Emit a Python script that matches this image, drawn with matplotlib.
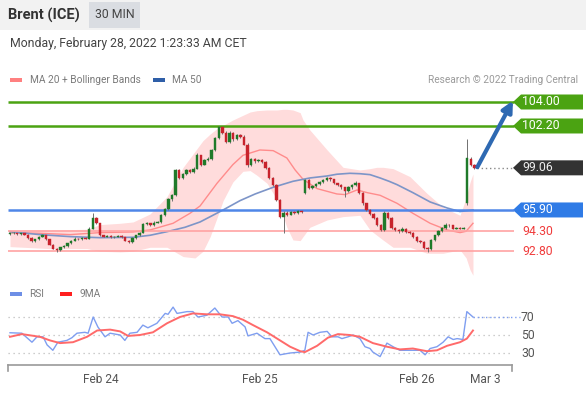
import matplotlib
matplotlib.use("Agg")
import matplotlib.pyplot as plt
from matplotlib.patches import Rectangle, Polygon
from matplotlib.transforms import blended_transform_factory
import numpy as np

plt.rcParams['font.family'] = ['Roboto', 'DejaVu Sans']

# ---------------- data ----------------
opens = [94.10, 94.15, 94.15, 94.10, 94.15, 94.05, 93.80, 93.55, 93.70, 93.90,
         94.00, 93.70, 93.30, 93.00, 92.90, 93.10, 93.20, 93.40, 93.60, 93.75,
         93.70, 93.80, 93.75, 94.50, 95.30, 94.90, 94.00, 93.90, 93.95, 93.85,
         93.90, 93.95, 93.85, 93.60, 93.50, 93.80, 94.00, 94.20, 94.85, 94.90,
         94.75, 94.95, 95.00, 95.50, 95.95, 96.70, 97.00, 98.90, 98.30, 98.60,
         98.90, 98.75, 99.00, 100.00, 99.30, 99.65, 99.70, 100.40, 101.30, 102.10,
         101.70, 101.00, 101.70, 101.20, 101.50, 101.40, 100.80, 99.30, 99.70, 99.55,
         99.65, 99.50, 99.05, 98.30, 97.80, 96.65, 95.40, 95.70, 95.55, 95.75,
         95.65, 95.80, 97.20, 98.15, 97.55, 97.70, 97.85, 98.00, 98.15, 98.30,
         98.20, 97.90, 97.75, 97.60, 97.30, 97.60, 97.75, 97.90, 97.20, 96.40,
         95.90, 95.60, 95.30, 94.80, 94.40, 95.70, 95.30, 94.55, 94.40, 94.30,
         94.50, 94.25, 94.20, 93.90, 93.60, 93.50, 93.05, 92.95, 93.65, 94.00,
         94.30, 94.55, 94.80, 94.75, 94.50, 94.55, 94.50, 96.40, 99.75, 99.30]
closes = [94.15, 94.15, 94.10, 94.15, 94.05, 93.80, 93.55, 93.70, 93.90, 94.00,
          93.70, 93.30, 93.00, 92.90, 93.10, 93.20, 93.40, 93.60, 93.75, 93.70,
          93.80, 93.75, 94.50, 95.30, 94.90, 94.00, 93.90, 93.95, 93.85, 93.90,
          93.95, 93.85, 93.60, 93.50, 93.80, 94.00, 94.20, 94.85, 94.90, 94.75,
          94.95, 95.00, 95.50, 95.95, 96.70, 97.00, 98.90, 98.30, 98.60, 98.90,
          98.75, 99.00, 100.00, 99.30, 99.65, 99.70, 100.40, 101.30, 102.10, 101.70,
          101.00, 101.70, 101.20, 101.50, 101.40, 100.80, 99.30, 99.70, 99.55, 99.65,
          99.50, 99.05, 98.30, 97.80, 96.65, 95.40, 95.70, 95.55, 95.75, 95.65,
          95.80, 95.75, 98.15, 97.55, 97.70, 97.85, 98.00, 98.15, 98.30, 98.20,
          97.90, 97.75, 97.60, 97.30, 97.60, 97.75, 97.90, 97.20, 96.40, 95.90,
          95.60, 95.30, 94.80, 94.40, 95.70, 95.30, 94.55, 94.40, 94.30, 94.50,
          94.25, 94.20, 93.90, 93.60, 93.50, 93.05, 92.95, 93.65, 94.00, 94.30,
          94.55, 94.80, 94.75, 94.50, 94.55, 94.50, 94.55, 99.80, 99.30, 99.06]
highs = [94.20, 94.22, 94.20, 94.20, 94.20, 94.10, 93.85, 93.75, 93.95, 94.10,
         94.05, 93.75, 93.35, 93.05, 93.15, 93.30, 93.45, 93.65, 93.85, 93.80,
         93.85, 93.85, 94.60, 95.70, 95.40, 94.95, 94.05, 94.05, 94.00, 93.95,
         94.00, 94.00, 93.90, 93.65, 93.85, 94.05, 94.25, 94.95, 95.00, 94.95,
         95.05, 95.10, 95.60, 96.05, 96.80, 97.10, 99.00, 98.95, 98.70, 99.00,
         98.95, 99.10, 100.15, 100.05, 99.75, 99.85, 100.50, 101.40, 102.20, 102.15,
         101.80, 101.80, 101.75, 101.60, 101.60, 101.50, 100.90, 99.80, 99.80, 99.75,
         99.75, 99.60, 99.10, 98.40, 97.85, 96.70, 95.80, 95.80, 95.85, 95.80,
         95.90, 95.85, 98.25, 98.20, 97.80, 97.95, 98.10, 98.25, 98.40, 98.35,
         98.25, 97.95, 97.85, 97.65, 97.70, 97.85, 98.10, 97.95, 97.25, 96.45,
         95.95, 95.65, 95.35, 94.85, 95.80, 95.75, 95.35, 94.60, 94.45, 94.60,
         94.55, 94.30, 94.25, 93.95, 93.65, 93.55, 93.10, 93.70, 94.05, 94.40,
         94.60, 94.90, 94.85, 94.80, 94.60, 94.60, 94.60, 101.20, 99.85, 99.35]
lows = [94.05, 94.08, 94.05, 94.05, 94.00, 93.75, 93.50, 93.50, 93.65, 93.85,
        93.65, 93.25, 92.95, 92.75, 92.85, 93.05, 93.15, 93.35, 93.55, 93.65,
        93.65, 93.70, 93.70, 94.45, 94.85, 93.95, 93.85, 93.85, 93.80, 93.80,
        93.85, 93.80, 93.55, 93.40, 93.45, 93.75, 93.95, 94.15, 94.80, 94.70,
        94.70, 94.90, 94.95, 95.45, 95.90, 96.60, 96.95, 98.20, 98.25, 98.55,
        98.65, 98.70, 98.95, 99.20, 99.25, 99.60, 99.65, 100.35, 101.25, 101.60,
        100.90, 100.95, 101.10, 101.15, 101.30, 100.75, 99.10, 99.20, 99.45, 99.50,
        99.45, 98.95, 98.25, 97.70, 96.55, 95.30, 94.20, 95.45, 95.50, 95.60,
        95.60, 95.65, 97.10, 97.45, 97.45, 97.60, 97.80, 97.95, 98.10, 98.10,
        97.85, 97.70, 97.50, 96.90, 97.25, 97.50, 97.70, 97.10, 96.30, 95.80,
        95.50, 95.20, 94.70, 94.30, 94.30, 95.20, 94.45, 94.30, 94.20, 94.25,
        94.15, 94.10, 93.80, 93.50, 93.40, 92.95, 92.75, 92.90, 93.60, 93.95,
        94.25, 94.50, 94.65, 94.45, 94.45, 94.45, 94.45, 96.30, 99.20, 99.00]

# indicator lines read at sample bar positions
ma50_x = [0, 8.3, 16.7, 25, 34.2, 38.9, 43.6, 48.6, 52.8, 59.2, 63.9, 68.1, 73.1,
          78.6, 83.3, 88.1, 90.8, 94.4, 97.2, 100, 102.8, 105.3, 107.5, 111.9, 116.7,
          121.4, 125, 128.6]
ma50_y = [94.27, 94.05, 93.90, 93.82, 93.85, 94.00, 94.27, 94.60, 95.00, 95.90, 96.60,
          97.10, 97.60, 98.05, 98.30, 98.45, 98.58, 98.65, 98.62, 98.55, 98.30, 98.05,
          97.80, 97.20, 96.50, 96.05, 95.78, 95.90]
ma20_x = [0, 8.3, 16.7, 25, 34.2, 38.9, 45.3, 50, 52.8, 57.5, 61.9, 64.7, 69.4, 73.1,
          76.9, 79.2, 81.4, 85.3, 90.8, 93.1, 96.4, 99.2, 102.8, 107.5, 111.9, 116.7,
          121.4, 125, 126.7, 128.6]
ma20_y = [94.20, 94.15, 94.05, 94.20, 94.25, 94.40, 94.90, 95.65, 96.20, 97.90, 99.30,
          100.00, 100.40, 100.35, 99.80, 98.90, 98.20, 97.50, 97.10, 97.05, 97.40, 97.20,
          97.00, 96.40, 95.65, 94.90, 94.40, 94.20, 94.30, 94.90]
bb_x = [0, 11.1, 21.4, 25, 30.6, 34.2, 38.9, 43.6, 48.1, 51.4, 53.6, 55.6, 57.5, 59.2,
        61.9, 64.7, 66.7, 68.6, 71.4, 74.2, 75.8, 76.9, 78.6, 80.6, 81.4, 83.3, 88.1,
        92.5, 97.2, 100, 101.9, 103.6, 106.4, 111.1, 115.8, 120.3, 125, 126.7, 127.8, 128.6]
bb_upper = [94.40, 94.40, 94.45, 94.80, 94.90, 95.00, 95.60, 96.90, 99.10, 100.30, 101.10,
            101.60, 102.00, 102.25, 102.65, 103.00, 103.25, 103.35, 103.40, 103.40, 103.45,
            103.45, 103.40, 103.20, 102.65, 101.90, 100.40, 99.10, 98.90, 99.00, 99.10,
            99.10, 99.00, 98.40, 97.15, 96.10, 95.50, 96.80, 98.00, 98.60]
bb_lower = [93.15, 93.00, 93.00, 92.80, 92.75, 92.80, 93.10, 93.10, 92.40, 92.30, 92.80,
            93.90, 95.30, 96.60, 98.00, 98.80, 98.85, 98.50, 97.90, 96.65, 95.50,
            94.60, 93.65, 93.60, 93.90, 94.60, 95.15, 95.40, 95.50, 94.40, 94.00,
            93.65, 93.10, 93.10, 92.65, 92.65, 92.90, 92.30, 91.40, 91.00]

rsi_x = [0, 3.3, 6.1, 7.5, 9.2, 10.3, 11.9, 13.3, 15.8, 17.2, 18.6, 20.8, 21.7, 23.1,
         24.4, 26.4, 27.8, 30.6, 31.9, 33.3, 35.3, 36.9, 38.3, 40.8, 43.1, 43.9, 45.3,
         46.4, 49.2, 50.8, 52.2, 54.7, 56.9, 58.9, 60.6, 61.7, 63.3, 65.3, 66.1, 68.6,
         70.8, 72.2, 75, 77.8, 80.6, 81.9, 82.8, 84.2, 86.1, 88.1, 89.4, 91.1, 92.2,
         93.9, 95.3, 97.2, 98.6, 100, 100.8, 102.8, 104.7, 106.4, 108.3, 110.3, 111.9,
         113.9, 115.3, 116.7, 118.6, 120.3, 121.7, 123.1, 124.2, 125.8, 126.9, 128.6]
rsi_y = [52.5, 52, 42, 48, 48, 39, 33, 42, 44, 47, 52, 53, 52, 70, 59, 48, 52, 50, 44, 52,
         53, 61, 58, 63, 74, 73, 81, 74, 76, 76, 70, 72, 80, 70, 70, 63, 66, 59, 49, 52,
         46, 46, 28, 30, 31, 33, 53, 50, 53, 54, 48, 48, 46, 48, 50, 46, 37, 35, 31, 26,
         41, 37, 33, 33, 33, 33, 28, 35, 37, 42, 48, 45, 46, 45, 76, 70]
ma9_x = [0, 3.3, 8.3, 11.1, 13.9, 17.5, 21.4, 24.2, 27.8, 30.6, 32.8, 36.1, 39.7, 43.6,
         47.2, 50.8, 54.7, 58.3, 61.9, 64.7, 67.5, 71.4, 75, 77.8, 80.6, 81.9, 85.3,
         88.3, 91.1, 94.4, 97.2, 100.8, 104.7, 108.3, 111.9, 115.8, 118.6, 121.4, 125,
         126.9, 128.6]
ma9_y = [48, 51, 48, 44, 41, 42, 48, 55, 56, 54, 49, 50, 53, 63, 70, 74, 73, 73, 71, 67,
         61, 53, 44, 37, 32, 31, 38, 47, 51, 50, 48, 41, 37, 34, 35, 32, 33, 38, 42, 46, 55]

levels = [104.00, 102.20, 95.90, 94.30, 92.80]
level_kind = ['res', 'res', 'pivot', 'sup', 'sup']
last_price = 99.06
date_ticks = [25.3, 69.4, 113.1, 132.1]
date_labels = ['Feb 24', 'Feb 25', 'Feb 26', 'Mar 3']
rsi_levels = [70, 50, 30]

# ---------------- figure ----------------
W, H = 586, 393
fig = plt.figure(figsize=(W / 100, H / 100), dpi=100)
fig.patch.set_facecolor('white')


def fx(px):
    return px / W


def fy(py):
    return 1 - py / H


# header
fig.patches.append(Rectangle((0, fy(30)), 1, 30 / H, transform=fig.transFigure,
                             facecolor='#f2f2f2', edgecolor='none'))
fig.patches.append(Rectangle((fx(89), fy(28)), 51 / W, 26 / H, transform=fig.transFigure,
                             facecolor='#dadde2', edgecolor='none'))
fig.text(fx(8), fy(15), 'Brent (ICE)', fontsize=10.5, fontweight='bold', color='#333333',
         va='center', ha='left')
fig.text(fx(114.5), fy(15), '30 MIN', fontsize=8.8, color='#444444', va='center', ha='center')
fig.text(fx(10), fy(44), 'Monday, February 28, 2022 1:23:33 AM CET', fontsize=8.85,
         color='#444444', va='center', ha='left')

# legends
fig.patches.append(Rectangle((fx(10), fy(82)), 12 / W, 4 / H, transform=fig.transFigure,
                             facecolor='#ff8080', edgecolor='none'))
fig.text(fx(30), fy(80), 'MA 20 + Bollinger Bands', fontsize=7.3, color='#7a7a7a', va='center')
fig.patches.append(Rectangle((fx(153), fy(82)), 12 / W, 4 / H, transform=fig.transFigure,
                             facecolor='#2f5fa8', edgecolor='none'))
fig.text(fx(172), fy(80), 'MA 50', fontsize=7.3, color='#7a7a7a', va='center')
fig.text(fx(578), fy(80), 'Research \u00a9 2022 Trading Central', fontsize=7.3,
         color='#9a9a9a', va='center', ha='right')

fig.patches.append(Rectangle((fx(10), fy(296)), 12 / W, 4 / H, transform=fig.transFigure,
                             facecolor='#6e8fe6', edgecolor='none'))
fig.text(fx(29), fy(294), 'RSI', fontsize=7.3, color='#7a7a7a', va='center')
fig.patches.append(Rectangle((fx(60), fy(296)), 12 / W, 4 / H, transform=fig.transFigure,
                             facecolor='#ff2020', edgecolor='none'))
fig.text(fx(79), fy(294), '9MA', fontsize=7.3, color='#7a7a7a', va='center')

# ---------------- main price panel ----------------
ax = fig.add_axes([fx(8), fy(277), (512 - 8) / W, (277 - 88) / H])
ax.set_xlim(-0.556, 139.44)
ax.set_ylim(90.87, 105.05)
ax.axis('off')

ax.fill_between(bb_x, bb_lower, bb_upper, color='#ffdcdc', lw=0, zorder=1)
ax.plot(ma20_x, ma20_y, color='#ff8c8c', lw=1.0, zorder=2)
ax.plot(ma50_x, ma50_y, color='#7d95c8', lw=1.2, zorder=2)

x_end = (514 - 10) / 3.6
level_col = {'res': '#4ba312', 'pivot': '#4f86e8', 'sup': '#ffa3a3'}
level_lw = {'res': 1.8, 'pivot': 1.8, 'sup': 1.2}
for lv, k in zip(levels, level_kind):
    ax.hlines(lv, -0.556, x_end, color=level_col[k], lw=level_lw[k], zorder=3, clip_on=False)

idx = np.arange(len(closes))
o = np.array(opens)
c = np.array(closes)
hi = np.array(highs)
lo = np.array(lows)
up = c >= o
cols = np.where(up, '#1f7a2a', '#c8232c')
ax.vlines(idx, lo, hi, color='#707070', lw=0.7, zorder=4)
body = np.maximum(np.abs(c - o), 0.05)
ax.bar(idx, body, bottom=np.minimum(o, c), width=0.7, color=cols, edgecolor=cols,
       lw=0.3, zorder=5)

# last price dotted line
ax.hlines(last_price, idx[-1] + 0.6, x_end, color='#888888', lw=1, linestyles=(0, (1, 2)),
          zorder=3, clip_on=False)

# arrow to target
ax.annotate('', xy=(x_end - 0.3, levels[0] + 0.1), xytext=(idx[-1] + 0.8, closes[-1] + 0.05),
            arrowprops=dict(arrowstyle='-|>', color='#2e69b2', lw=3, mutation_scale=16,
                            shrinkA=0, shrinkB=0), zorder=6, annotation_clip=False)

# right tags
tr = blended_transform_factory(fig.transFigure, ax.transData)
hh = 7.5 / 13.33


def tag(level, face, text, tcolor):
    if face is not None:
        poly = Polygon([(fx(513), level), (fx(521), level + hh), (fx(583), level + hh),
                        (fx(583), level - hh), (fx(521), level - hh)], closed=True,
                       transform=tr, facecolor=face, edgecolor='none', clip_on=False)
        ax.add_artist(poly)
    ax.text(fx(522), level, text, transform=tr, va='center', ha='left', color=tcolor,
            fontsize=8.8, clip_on=False)


tag_face = {'res': '#4ba312', 'pivot': '#2f7be6', 'sup': None}
tag_text = {'res': 'white', 'pivot': 'white', 'sup': '#f03c3c'}
for lv, k in zip(levels, level_kind):
    tag(lv, tag_face[k], f'{lv:.2f}', tag_text[k])
tag(last_price, '#333333', f'{last_price:.2f}', '#eeeeee')

# ---------------- RSI panel ----------------
ax2 = fig.add_axes([fx(8), fy(365), (512 - 8) / W, (365 - 300) / H])
ax2.set_xlim(-0.556, 139.44)
ax2.set_ylim(16.67, 88.9)
for s in ['top', 'left', 'right']:
    ax2.spines[s].set_visible(False)
ax2.spines['bottom'].set_color('#9a9a9a')
ax2.spines['bottom'].set_linewidth(1.2)
ax2.set_yticks([])
ax2.set_xticks(date_ticks)
ax2.set_xticklabels(date_labels)
ax2.tick_params(axis='x', length=0, pad=5.5, labelsize=8.6, labelcolor='#555555')
ax2.set_facecolor('none')

for rl in rsi_levels:
    ax2.hlines(rl, -0.556, 139.44, color='#bdbdbd', lw=0.9, linestyles=(0, (1, 3)))
tr2 = blended_transform_factory(fig.transFigure, ax2.transData)
for rl in rsi_levels:
    ax2.text(fx(521), rl, str(rl), transform=tr2, va='center', ha='left', fontsize=8.8,
             color='#555555', clip_on=False)

trx = blended_transform_factory(ax2.transData, ax2.transAxes)
for xe in ax2.get_xlim():
    ax2.plot([xe, xe], [0, -0.09], transform=trx, color='#9a9a9a', lw=1.2, clip_on=False)

ax2.plot(rsi_x, rsi_y, color='#7f9ef0', lw=1.0, zorder=3)
ax2.plot(ma9_x, ma9_y, color='#ff6a6a', lw=1.4, zorder=4)
ax2.hlines(rsi_y[-1], rsi_x[-1], (520 - 10) / 3.6, color='#7f9ef0', lw=1.0,
           linestyles=(0, (1, 2)), clip_on=False)

fig.savefig('out.png', dpi=100)
